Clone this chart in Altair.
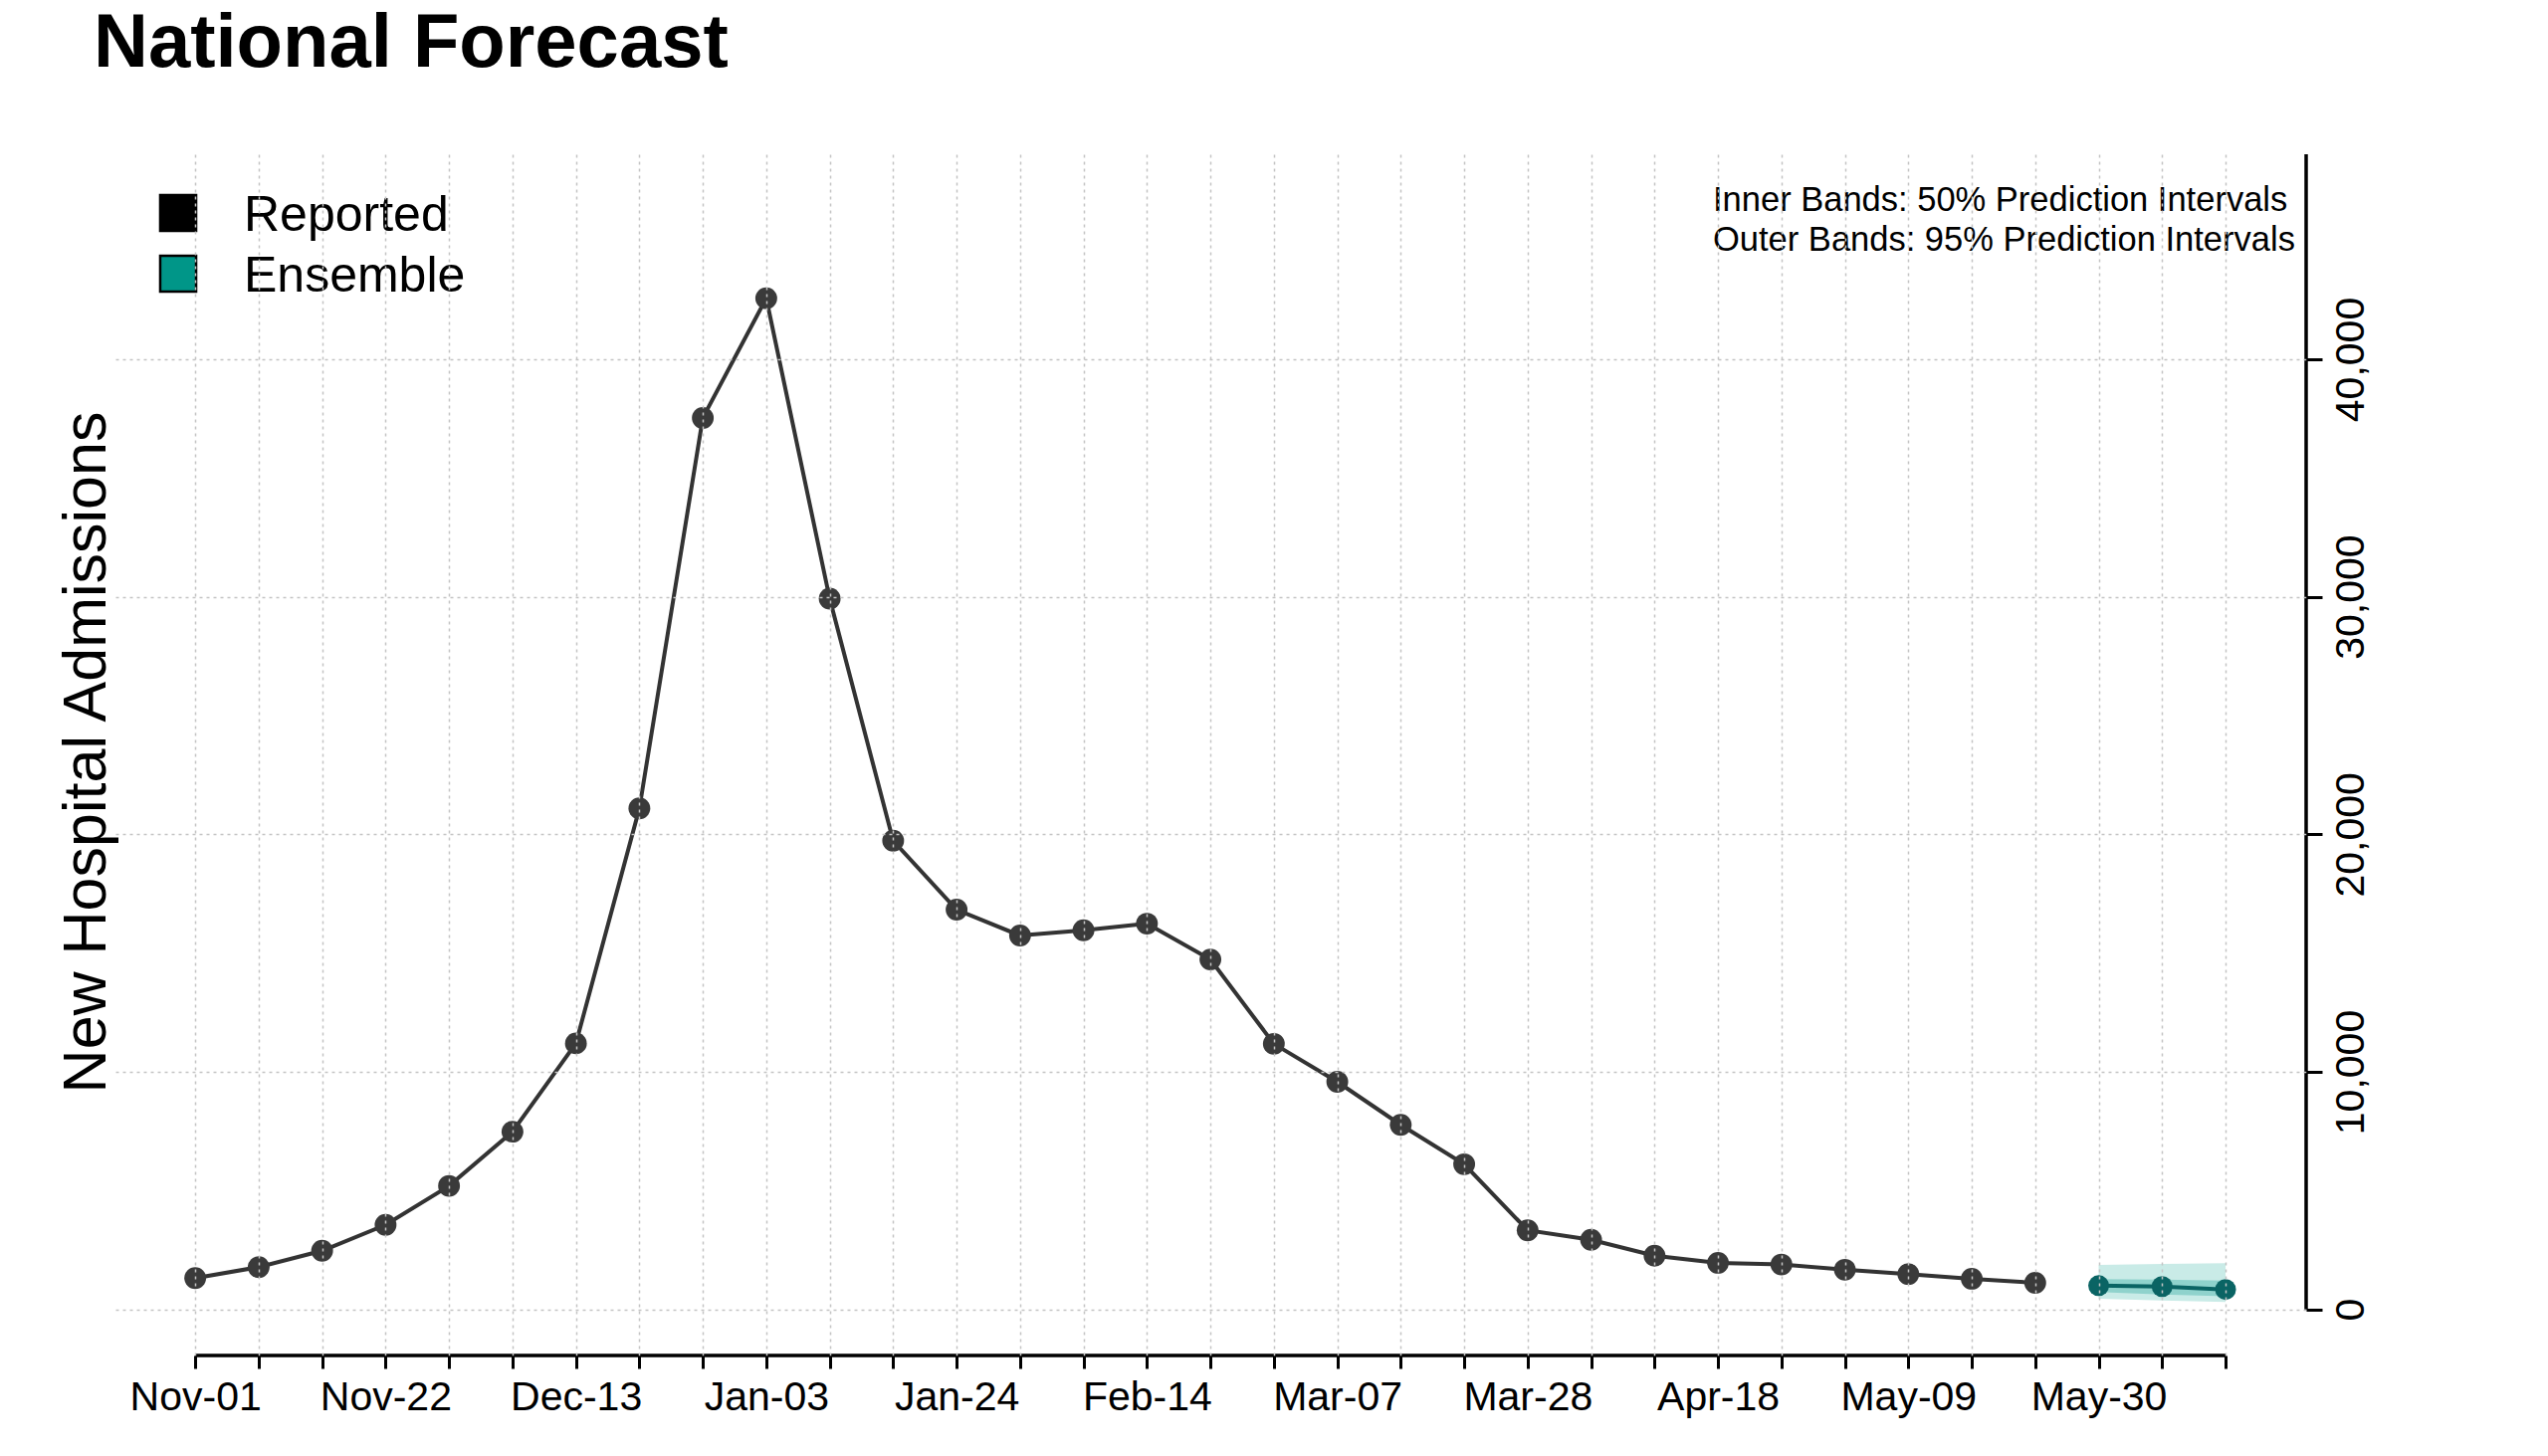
import altair as alt
import pandas as pd

# weekly dates (x axis), labelled every third week
weeks = ['Nov-01', 'Nov-08', 'Nov-15', 'Nov-22', 'Nov-29', 'Dec-06', 'Dec-13',
         'Dec-20', 'Dec-27', 'Jan-03', 'Jan-10', 'Jan-17', 'Jan-24', 'Jan-31',
         'Feb-07', 'Feb-14', 'Feb-21', 'Feb-28', 'Mar-07', 'Mar-14', 'Mar-21',
         'Mar-28', 'Apr-04', 'Apr-11', 'Apr-18', 'Apr-25', 'May-02', 'May-09',
         'May-16', 'May-23', 'May-30', 'Jun-06', 'Jun-13']

reported = [1320, 1780, 2470, 3560, 5200, 7480, 11200, 21090, 37530, 42570,
            29920, 19730, 16830, 15740, 15960, 16240, 14730, 11180, 9580, 7770,
            6110, 3330, 2930, 2260, 1960, 1890, 1670, 1490, 1290, 1120]

ens_weeks = ['May-30', 'Jun-06', 'Jun-13']
ens_median = [1000, 960, 840]
ens_lo50 = [730, 630, 550]
ens_hi50 = [1280, 1250, 1210]
ens_lo95 = [450, 380, 310]
ens_hi95 = [1870, 1910, 1950]

y_ticks = [0, 10000, 20000, 30000, 40000]

legend_labels = ['Reported', 'Ensemble']
legend_colors = ['#000000', '#009688']

FONT = 'Liberation Sans'
W, H = 2205, 1207

rep_df = pd.DataFrame({'week': range(len(reported)), 'date': weeks[:len(reported)],
                       'value': reported})
ens_df = pd.DataFrame({'week': [weeks.index(w) for w in ens_weeks], 'date': ens_weeks,
                       'median': ens_median, 'lo50': ens_lo50, 'hi50': ens_hi50,
                       'lo95': ens_lo95, 'hi95': ens_hi95})
one = pd.DataFrame({'k': [0]})  # single row for annotation marks

label_js = '[' + ','.join("'" + w + "'" for w in weeks) + ']'
x_scale = alt.Scale(domain=[-1.32, 33.27], nice=False, zero=False)
y_scale = alt.Scale(domain=[-1940, 48630], nice=False, zero=False)

x_axis = alt.Axis(values=list(range(len(weeks))), title=None, domain=False,
                  labelExpr="datum.value % 3 == 0 ? " + label_js + "[datum.value] : ''",
                  labelFontSize=41, labelColor='black', labelFont=FONT,
                  labelPadding=9, labelBaseline='top', labelFlush=False,
                  tickSize=13, tickWidth=3, tickColor='black',
                  grid=True, gridColor='#c4c4c4', gridDash=[3, 4], gridWidth=1.5,
                  zindex=1)
y_axis = alt.Axis(values=y_ticks, orient='right', title=None, domain=False,
                  format=',.0f', labelAngle=270, labelAlign='center', labelBaseline='top',
                  labelFontSize=41, labelColor='black', labelFont=FONT,
                  labelPadding=9, labelFlush=False,
                  tickSize=16, tickWidth=3, tickColor='black',
                  grid=True, gridColor='#c4c4c4', gridDash=[3, 4], gridWidth=1.5,
                  zindex=1)

base_rep = alt.Chart(rep_df).encode(
    x=alt.X('week:Q', scale=x_scale, axis=x_axis),
    y=alt.Y('value:Q', scale=y_scale, axis=y_axis),
)
rep_line = base_rep.mark_line(color='#333333', strokeWidth=4)
rep_pts = base_rep.mark_circle(color='#3a3a3a', size=480, opacity=1)

base_ens = alt.Chart(ens_df).encode(x=alt.X('week:Q', scale=x_scale))
band95 = base_ens.mark_area(color='#c9ebe7', opacity=1).encode(
    y=alt.Y('lo95:Q', scale=y_scale), y2='hi95:Q')
band50 = base_ens.mark_area(color='#8fd2cc', opacity=1).encode(
    y=alt.Y('lo50:Q', scale=y_scale), y2='hi50:Q')
ens_line = base_ens.mark_line(color='#0a6464', strokeWidth=4).encode(
    y=alt.Y('median:Q', scale=y_scale))
ens_pts = base_ens.mark_circle(color='#0a6464', size=440, opacity=1).encode(
    y=alt.Y('median:Q', scale=y_scale))

# axis lines drawn the R way: x from first to last tick, y from 0 to top
x_line = alt.Chart(one).mark_rule(color='black', strokeWidth=3.5).encode(
    x=alt.datum(0), x2=alt.datum(len(weeks) - 1), y=alt.value(H))
y_line = alt.Chart(one).mark_rule(color='black', strokeWidth=3.5).encode(
    x=alt.value(W), y=alt.datum(0), y2=alt.value(0))

title = alt.Chart(one).mark_text(
    text='National Forecast', font=FONT, fontSize=76, fontWeight='bold',
    align='left', baseline='alphabetic', color='black'
).encode(x=alt.value(-18), y=alt.value(-88))

y_title = alt.Chart(one).mark_text(
    text='New Hospital Admissions', font=FONT, fontSize=61, angle=270,
    align='center', baseline='alphabetic', color='black'
).encode(x=alt.value(-6), y=alt.value(601))

notes = alt.Chart(one).mark_text(
    text=['Inner Bands: 50% Prediction Intervals', 'Outer Bands: 95% Prediction Intervals'],
    font=FONT, fontSize=34.5, lineHeight=40, align='left', baseline='alphabetic',
    color='black'
).encode(x=alt.value(1609), y=alt.value(57))

legend_layers = []
for i, (lab, col) in enumerate(zip(legend_labels, legend_colors)):
    legend_layers.append(alt.Chart(one).mark_point(
        shape='square', size=1300, filled=True, fill=col, stroke='black',
        strokeWidth=2.5, opacity=1
    ).encode(x=alt.value(67), y=alt.value(59 + 61 * i)))
    legend_layers.append(alt.Chart(one).mark_text(
        text=lab, font=FONT, fontSize=50, align='left', baseline='alphabetic',
        color='black'
    ).encode(x=alt.value(133), y=alt.value(77 + 61 * i)))

chart = alt.layer(
    band95, band50, rep_line, rep_pts, ens_line, ens_pts, x_line, y_line,
    title, y_title, notes, *legend_layers
).properties(
    width=W, height=H,
    autosize=alt.AutoSizeParams(type='none'),
    padding={'left': 104, 'top': 147, 'right': 200, 'bottom': 80},
    background='white'
).configure(font=FONT).configure_view(stroke='transparent')

chart.save('out.html', embed_options={'renderer': 'svg', 'actions': False})
